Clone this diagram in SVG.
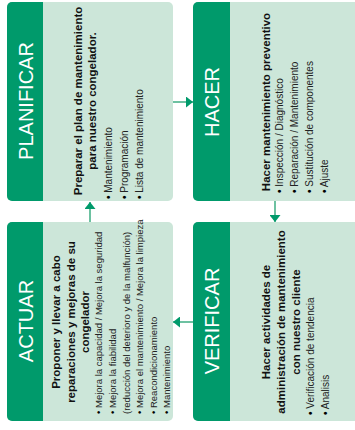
<svg xmlns="http://www.w3.org/2000/svg" width="355" height="430" viewBox="0 0 355 430">
<style>
.light{fill:#cce6d9}
.dark{fill:#009a6b}
.big{font-family:"Liberation Sans",Arial,sans-serif;font-size:20px;fill:#fff;text-anchor:middle}
.ttl{font-family:"Liberation Sans",Arial,sans-serif;font-weight:bold;font-size:11.5px;fill:#111;text-anchor:middle}
.bl{font-family:"Liberation Sans",Arial,sans-serif;font-size:10px;fill:#222}
.bs{font-family:"Liberation Sans",Arial,sans-serif;font-size:9.5px;fill:#222}
.d{font-weight:bold;fill:#000}
.conn{stroke:#3dac82;stroke-width:1.5;fill:none}
</style>
<defs>
<marker id="ah" viewBox="0 0 7 11" refX="7" refY="5.5" markerWidth="7" markerHeight="11" markerUnits="userSpaceOnUse" orient="auto">
<path d="M0,0 L7,5.5 L0,11 Z" fill="#009a6b"/>
</marker>
</defs>
<rect width="355" height="430" fill="#fff"/>

<g id="connectors">
<line class="conn" x1="90" y1="222" x2="90" y2="202" marker-end="url(#ah)"/>
<line class="conn" x1="173" y1="102" x2="193" y2="102" marker-end="url(#ah)"/>
<line class="conn" x1="275" y1="201" x2="275" y2="222" marker-end="url(#ah)"/>
<line class="conn" x1="193" y1="322" x2="173" y2="322" marker-end="url(#ah)"/>
</g>

<g id="planificar">
<rect class="light" x="7" y="2" width="166" height="199" rx="5"/>
<path class="dark" d="M12,2 H43 V201 H12 A5,5 0 0 1 7,196 V7 A5,5 0 0 1 12,2 Z"/>
<g transform="translate(7,201) rotate(-90)">
<text class="big" x="100" y="26">PLANIFICAR</text>
<text class="ttl" x="100" y="75">Preparar el plan de mantenimiento</text>
<text class="ttl" x="100" y="89">para nuestro congelador.</text>
<text class="bl" x="2" y="105"><tspan class="d">•</tspan> Mantenimiento</text>
<text class="bl" x="2" y="120.5"><tspan class="d">•</tspan> Programación</text>
<text class="bl" x="2" y="136"><tspan class="d">•</tspan> Lista de mantenimiento</text>
</g>
</g>

<g id="hacer">
<rect class="light" x="193" y="2" width="172" height="199" rx="5"/>
<path class="dark" d="M198,2 H230 V201 H198 A5,5 0 0 1 193,196 V7 A5,5 0 0 1 198,2 Z"/>
<g transform="translate(193,201) rotate(-90)">
<text class="big" x="99" y="26">HACER</text>
<text class="ttl" x="99" y="77">Hacer mantenimiento preventivo</text>
<text class="bl" x="8" y="90"><tspan class="d">•</tspan> Inspección / Diagnóstico</text>
<text class="bl" x="8" y="105"><tspan class="d">•</tspan> Reparación / Mantenimiento</text>
<text class="bl" x="8" y="120"><tspan class="d">•</tspan> Sustitución de componentes</text>
<text class="bl" x="8" y="135"><tspan class="d">•</tspan> Ajuste</text>
</g>
</g>

<g id="verificar">
<rect class="light" x="193" y="222" width="172" height="199" rx="5"/>
<path class="dark" d="M198,222 H230 V421 H198 A5,5 0 0 1 193,416 V227 A5,5 0 0 1 198,222 Z"/>
<g transform="translate(193,421) rotate(-90)">
<text class="big" x="100" y="26">VERIFICAR</text>
<text class="ttl" x="99" y="77">Hacer actividades de</text>
<text class="ttl" x="99" y="92">administración de mantenimiento</text>
<text class="ttl" x="99" y="107">con nuestro cliente</text>
<text class="bl" x="6" y="121"><tspan class="d">•</tspan> Verificación de tendencia</text>
<text class="bl" x="6" y="136"><tspan class="d">•</tspan> Analisis</text>
</g>
</g>

<g id="actuar">
<rect class="light" x="7" y="222" width="166" height="199" rx="5"/>
<path class="dark" d="M12,222 H43 V421 H12 A5,5 0 0 1 7,416 V227 A5,5 0 0 1 12,222 Z"/>
<g transform="translate(7,421) rotate(-90)">
<text class="big" x="100" y="26">ACTUAR</text>
<text class="ttl" x="99" y="53">Proponer y llevar a cabo</text>
<text class="ttl" x="99" y="68">reparaciones y mejoras de su</text>
<text class="ttl" x="99" y="82">congelador</text>
<text class="bs" x="7" y="95"><tspan class="d">•</tspan> Mejora la capacidad / Mejora la seguridad</text>
<text class="bs" x="7" y="109"><tspan class="d">•</tspan> Mejora la fiabilidad</text>
<text class="bs" x="7" y="122.5">(reducción del deterioro y de la malfunción)</text>
<text class="bs" x="7" y="136"><tspan class="d">•</tspan> Mejora el mantenimiento / Mejora la limpieza</text>
<text class="bs" x="7" y="149.5"><tspan class="d">•</tspan> Reacondicionamiento</text>
<text class="bs" x="7" y="163"><tspan class="d">•</tspan> Mantenimiento</text>
</g>
</g>
</svg>
